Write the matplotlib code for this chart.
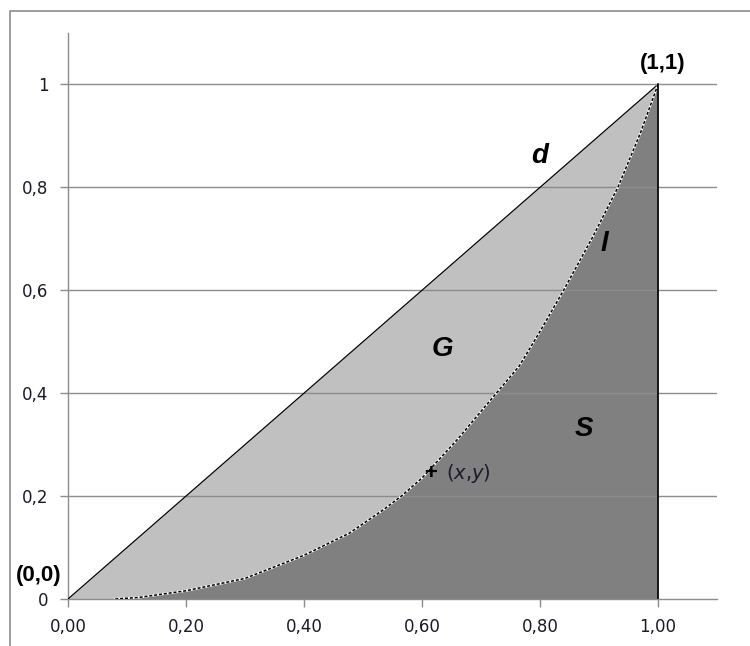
import numpy as np
import matplotlib
matplotlib.use("Agg")
import matplotlib.pyplot as plt
from matplotlib.lines import Line2D

# ── Data ─────────────────────────────────────────────
diag_x = [0.0, 1.0]
diag_y = [0.0, 1.0]

# Lorenz curve
curve_x = [0.08, 0.12, 0.20, 0.30, 0.40, 0.477, 0.534, 0.565, 0.60, 0.66, 0.726, 0.765, 0.80, 0.84, 0.89, 0.932, 0.97, 1.00]
curve_y = [0.00, 0.003, 0.016, 0.040, 0.085, 0.128, 0.173, 0.200, 0.235, 0.31, 0.400, 0.453, 0.52, 0.600, 0.705, 0.800, 0.905, 1.00]

x_ticks = [0.0, 0.2, 0.4, 0.6, 0.8, 1.0]
x_labels = ["0,00", "0,20", "0,40", "0,60", "0,80", "1,00"]
y_ticks = [0.0, 0.2, 0.4, 0.6, 0.8, 1.0]
y_labels = ["0", "0,2", "0,4", "0,6", "0,8", "1"]

LIGHT = "#c0c0c0"
DARK = "#808080"
GRID = "#8c8c8c"
TXT = "#1a1a2a"

fig = plt.figure(figsize=(7.5, 6.46), dpi=100)
ax = fig.add_axes([68 / 750, 47 / 646, 649 / 750, 566 / 646])
ax.set_xlim(0, 1.1)
ax.set_ylim(0, 1.1)

# fills
cx = np.array(curve_x)
cy = np.array(curve_y)
full_x = np.concatenate([[0.0], cx])
full_y = np.concatenate([[0.0], cy])
ax.fill_between(full_x, full_y, full_x, color=LIGHT, lw=0, zorder=1)
ax.fill_between(cx, 0, cy, color=DARK, lw=0, zorder=1)

# gridlines
for yv in y_ticks[1:]:
    ax.axhline(yv, color=GRID, lw=1, zorder=2)

ax.plot(diag_x, diag_y, color="black", lw=0.9, zorder=3)
ax.plot(cx, cy, color="white", lw=1.6, zorder=3)
ax.plot(cx, cy, color="black", lw=1.1, ls=(0, (2, 1.2)), zorder=4)
ax.plot([1, 1], [0, 1], color="black", lw=1.2, zorder=4)

# axes styling
for s in ["top", "right"]:
    ax.spines[s].set_visible(False)
for s in ["left", "bottom"]:
    ax.spines[s].set_color(GRID)
    ax.spines[s].set_linewidth(1)
ax.set_xticks(x_ticks)
ax.set_xticklabels(x_labels)
ax.set_yticks(y_ticks)
ax.set_yticklabels(y_labels)
ax.tick_params(axis="both", colors=GRID, labelcolor=TXT, labelsize=12,
               length=6, width=1, direction="out")
ax.tick_params(axis="x", pad=8)
ax.tick_params(axis="y", pad=8)

# annotations
ax.text(1.008, 1.041, "(1,1)", ha="center", va="center", fontsize=16, fontweight="bold",
        family="Liberation Sans")
ax.text(-0.05, 0.045, "(0,0)", ha="center", va="center", fontsize=16, fontweight="bold",
        family="Liberation Sans", clip_on=False)
ax.text(0.80, 0.86, "d", ha="center", va="center", fontsize=20, fontweight="bold",
        style="italic", family="Liberation Sans")
ax.text(0.91, 0.69, "l", ha="center", va="center", fontsize=20, fontweight="bold",
        style="italic", family="Liberation Sans")
ax.text(0.635, 0.485, "G", ha="center", va="center", fontsize=20, fontweight="bold",
        style="italic", family="Liberation Sans")
ax.text(0.875, 0.33, "S", ha="center", va="center", fontsize=20, fontweight="bold",
        style="italic", family="Liberation Sans")
ax.text(0.614, 0.244, "+", ha="center", va="center", fontsize=16, fontweight="bold",
        family="Liberation Sans", zorder=5)
ax.text(0.64, 0.244, r"($\mathit{x}$,$\mathit{y}$)", ha="left", va="center", fontsize=14,
        family="DejaVu Sans", color=TXT, zorder=5)

# outer chart frame (cropped)
fig.add_artist(Line2D([10 / 750, 10 / 750, 1.0], [0.0, 1 - 11 / 646, 1 - 11 / 646],
                      transform=fig.transFigure, color=GRID, lw=1.2))

fig.savefig("out.png", dpi=100)
